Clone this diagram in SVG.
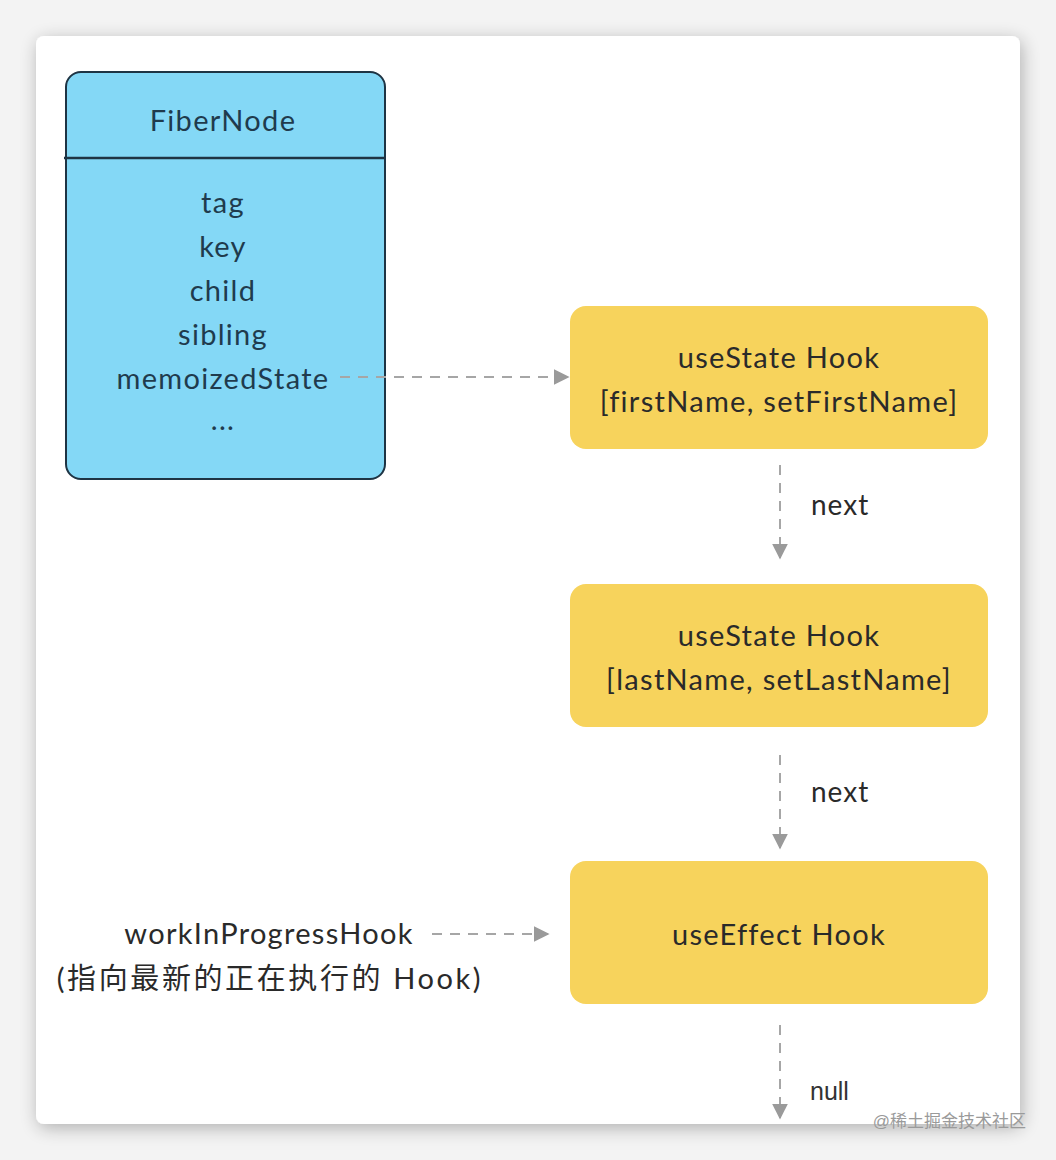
<svg xmlns="http://www.w3.org/2000/svg" width="1056" height="1160" viewBox="0 0 1056 1160">
<style>
.t{font-family:"Lato","Liberation Sans",sans-serif;font-size:29px;letter-spacing:1.3px;fill:#2a2a2a;text-anchor:middle}
.f{fill:#1f3b4d}
.hook{fill:#f7d35c}
.dash{stroke:#a6a6a6;stroke-width:2;stroke-dasharray:10 8;fill:none}
.lbl{font-family:"Lato","Liberation Sans",sans-serif;font-size:28px;letter-spacing:1px;fill:#2a2a2a}
</style>
<defs>
<marker id="ah" viewBox="0 0 10 10" refX="9" refY="5" markerWidth="16" markerHeight="16" markerUnits="userSpaceOnUse" orient="auto">
<path d="M0,0 L10,5 L0,10 z" fill="#9a9a9a"/>
</marker>
<filter id="sh" x="-5%" y="-5%" width="110%" height="110%">
<feGaussianBlur in="SourceAlpha" stdDeviation="9"/>
<feOffset dx="2" dy="4"/>
<feComponentTransfer><feFuncA type="linear" slope="0.28"/></feComponentTransfer>
<feMerge><feMergeNode/><feMergeNode in="SourceGraphic"/></feMerge>
</filter>
</defs>
<rect width="1056" height="1160" fill="#f3f3f3"/>
<rect x="36" y="36" width="984" height="1088" rx="8" fill="#ffffff" filter="url(#sh)"/>

<g id="fibernode">
<rect x="66" y="72" width="319" height="407" rx="15" fill="#84d8f6" stroke="#1e3444" stroke-width="2"/>
<line x1="64" y1="158" x2="385" y2="158" stroke="#1e3444" stroke-width="2.5"/>
<text class="t f" x="223" y="131">FiberNode</text>
<text class="t f" x="223" y="213">tag</text>
<text class="t f" x="223" y="257">key</text>
<text class="t f" x="223" y="301">child</text>
<text class="t f" x="223" y="345">sibling</text>
<text class="t f" x="223" y="389">memoizedState</text>
<text class="t f" x="223" y="430">...</text>
</g>

<g id="hook1">
<rect class="hook" x="570" y="306" width="418" height="143" rx="16"/>
<text class="t" x="779" y="368">useState Hook</text>
<text class="t" x="779" y="412">[firstName, setFirstName]</text>
</g>

<g id="hook2">
<rect class="hook" x="570" y="584" width="418" height="143" rx="16"/>
<text class="t" x="779" y="646">useState Hook</text>
<text class="t" x="779" y="690">[lastName, setLastName]</text>
</g>

<g id="hook3">
<rect class="hook" x="570" y="861" width="418" height="143" rx="16"/>
<text class="t" x="779" y="945">useEffect Hook</text>
</g>

<g id="wip">
<text class="t" x="269" y="944">workInProgressHook</text>
<text class="t" x="270" y="989" style="font-family:'Lato','Noto Sans CJK SC',sans-serif;letter-spacing:2.6px">(指向最新的正在执行的 Hook)</text>
</g>

<g id="connectors">
<line class="dash" x1="340" y1="377" x2="568" y2="377" marker-end="url(#ah)"/>
<line class="dash" x1="780" y1="465" x2="780" y2="558" marker-end="url(#ah)"/>
<text class="lbl" x="811" y="515">next</text>
<line class="dash" x1="780" y1="755" x2="780" y2="848" marker-end="url(#ah)"/>
<text class="lbl" x="811" y="802">next</text>
<line class="dash" x1="432" y1="934" x2="548" y2="934" marker-end="url(#ah)"/>
<line class="dash" x1="780" y1="1025" x2="780" y2="1118" marker-end="url(#ah)"/>
<text x="810" y="1100" style="font-family:'Liberation Sans',sans-serif;font-size:25px;fill:#333">null</text>
</g>

<text x="1026" y="1127" style="font-family:'Liberation Sans','Noto Sans CJK SC',sans-serif;font-size:17px;fill:#9a9a9a;text-anchor:end">@稀土掘金技术社区</text>
</svg>
